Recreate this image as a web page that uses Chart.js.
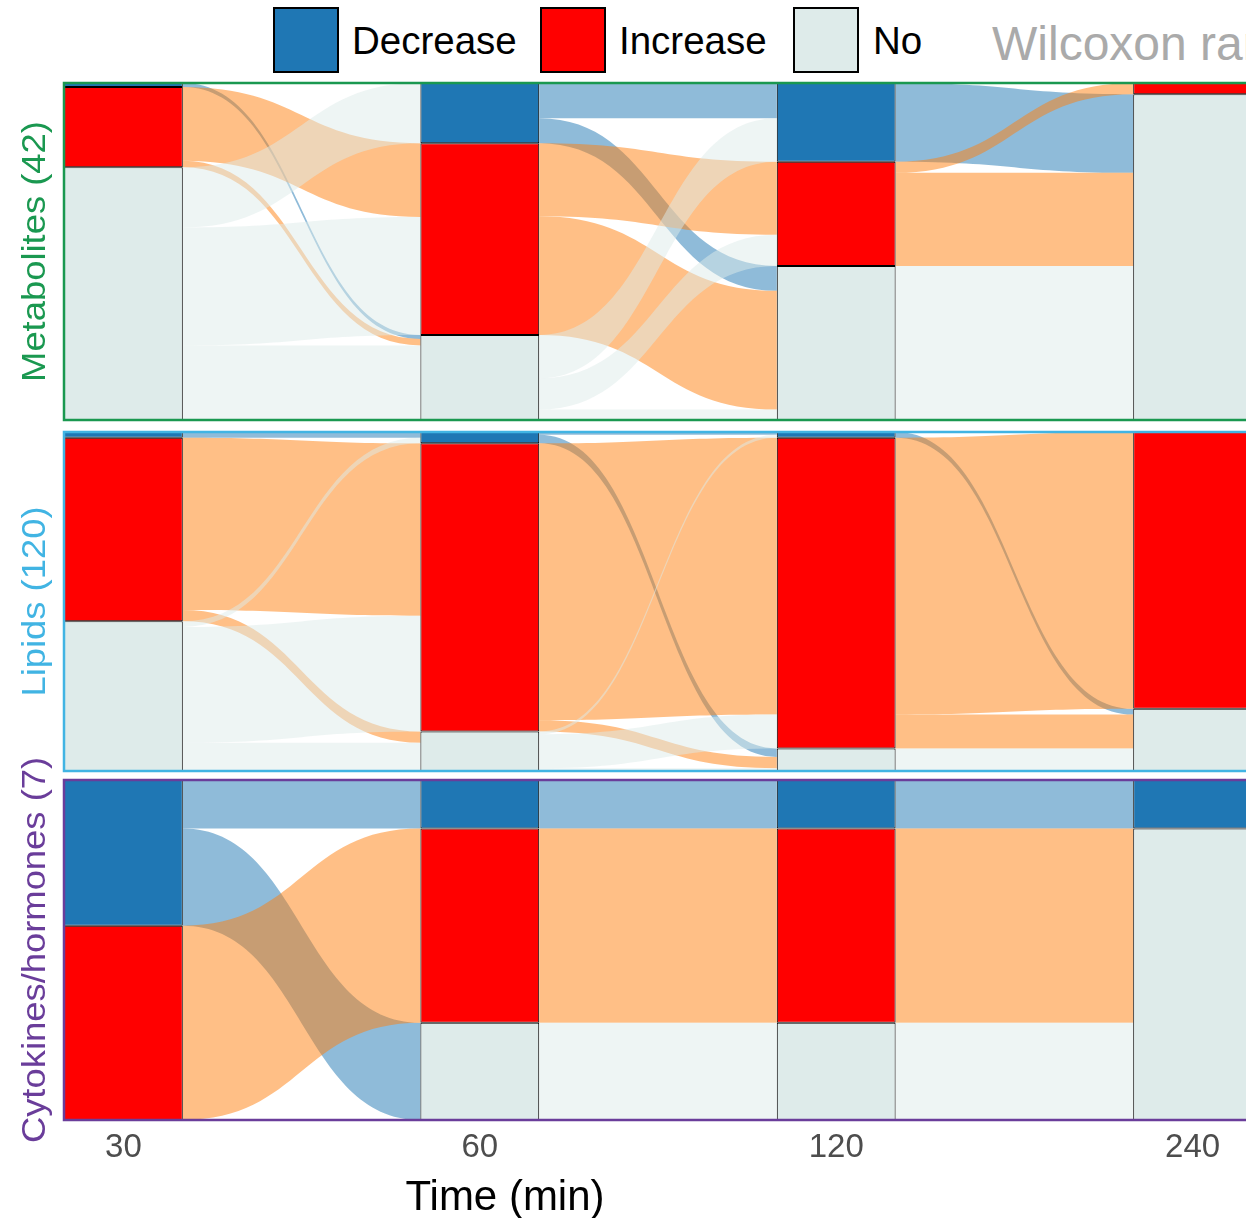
<!DOCTYPE html>
<html>

<head>
    <script src="https://cdn.jsdelivr.net/npm/chart.js"></script>
    <title>Alluvial - Wilcoxon rank-sum</title>
    <style>
        html, body { margin: 0; padding: 0; background: #fff; overflow: hidden; }
        body { width: 1246px; height: 1218px; position: relative; font-family: 'Liberation Sans', Arial, sans-serif; }
        canvas { position: absolute; left: 0; }
        .key { position: absolute; top: 7px; width: 62px; height: 62px; border: 2px solid #000; }
        .lab { position: absolute; white-space: nowrap; line-height: 1; }
    </style>
</head>

<body>
    <div class="key" style="left:273px;background:#1f77b4"></div>
    <div class="lab" style="left:352px;top:22px;font-size:38.5px">Decrease</div>
    <div class="key" style="left:540px;background:#ff0000"></div>
    <div class="lab" style="left:619px;top:22px;font-size:38.5px">Increase</div>
    <div class="key" style="left:793px;background:#deebea"></div>
    <div class="lab" style="left:873px;top:22px;font-size:38.5px">No</div>
    <div class="lab" style="left:992px;top:20px;font-size:48px;color:#aaaaaa">Wilcoxon rank-sum test</div>

    <canvas id="metabChart" width="1260" height="380" style="top:60px"></canvas>
    <canvas id="lipidChart" width="1260" height="375" style="top:410px"></canvas>
    <canvas id="cytoChart" width="1260" height="478" style="top:740px"></canvas>

    <div class="lab" style="left:305px;width:400px;text-align:center;top:1175px;font-size:42px">Time (min)</div>

    <script>
        const times = ['30', '60', '120', '240'];
        const states = ['Decrease', 'Increase', 'No'];
        const stateColors = ['#1f77b4', '#ff0000', '#deebea'];
        const flowColors = ['rgba(31,119,180,0.5)', 'rgba(255,127,14,0.5)', 'rgba(222,235,234,0.5)'];

        // flow counts, rows = state at the earlier time, columns = state at the later time
        const metab30to60 = [[0, 0, 0.5], [0, 9.2, 0.8], [7.5, 14.7, 9.3]];
        const metab60to120 = [[4.4, 0, 3.1], [0, 9.1, 14.8], [5.4, 3.9, 1.3]];
        const metab120to240 = [[0, 0, 9.8], [0, 1.4, 11.6], [0, 0, 19.2]];

        const lipid30to60 = [[2, 0, 0], [0, 61, 4], [2, 41, 10]];
        const lipid60to120 = [[1, 0, 3], [0, 98, 4], [1, 12, 1]];
        const lipid120to240 = [[0, 0, 2], [0, 98, 12], [0, 0, 8]];

        const cyto30to60 = [[1, 0, 2], [0, 4, 0], [0, 0, 0]];
        const cyto60to120 = [[1, 0, 0], [0, 4, 0], [0, 0, 2]];
        const cyto120to240 = [[1, 0, 0], [0, 0, 4], [0, 0, 2]];

        const barFrac = 1 / 3;
        const fontFamily = "'Liberation Sans', Arial, sans-serif";

        const sum = arr => arr.reduce((a, b) => a + b, 0);

        function strataAt(flows, t) {
            if (t < flows.length) return flows[t].map(row => sum(row));
            const last = flows[flows.length - 1];
            return states.map((_, j) => sum(last.map(row => row[j])));
        }

        const flowPlugin = {
            id: 'flows',
            beforeDatasetsDraw(chart, args, opts) {
                const { ctx, scales: { x, y } } = chart;
                const flows = opts.flows;
                const half = (x.getPixelForValue(1) - x.getPixelForValue(0)) * barFrac / 2;
                ctx.save();
                for (let t = 0; t < flows.length; t++) {
                    const m = flows[t];
                    const src = strataAt(flows, t);
                    const dst = strataAt(flows, t + 1);
                    const x0 = x.getPixelForValue(t) + half;
                    const x1 = x.getPixelForValue(t + 1) - half;
                    const xm = (x0 + x1) / 2;
                    for (let a = 0; a < 3; a++) {
                        for (let b = 0; b < 3; b++) {
                            const v = m[a][b];
                            if (!v) continue;
                            const s0 = sum(src.slice(0, a)) + sum(m[a].slice(0, b));
                            let d0 = sum(dst.slice(0, b));
                            for (let k = 0; k < a; k++) d0 += m[k][b];
                            const y0t = y.getPixelForValue(s0), y0b = y.getPixelForValue(s0 + v);
                            const y1t = y.getPixelForValue(d0), y1b = y.getPixelForValue(d0 + v);
                            ctx.beginPath();
                            ctx.moveTo(x0, y0t);
                            ctx.bezierCurveTo(xm, y0t, xm, y1t, x1, y1t);
                            ctx.lineTo(x1, y1b);
                            ctx.bezierCurveTo(xm, y1b, xm, y0b, x0, y0b);
                            ctx.closePath();
                            ctx.fillStyle = flowColors[a];
                            ctx.fill();
                        }
                    }
                }
                ctx.restore();
            }
        };

        const framePlugin = {
            id: 'frame',
            afterDraw(chart, args, opts) {
                const { ctx, chartArea: area } = chart;
                ctx.save();
                ctx.strokeStyle = opts.color;
                ctx.lineWidth = 2.5;
                ctx.strokeRect(area.left, area.top, area.right - area.left, area.bottom - area.top);
                ctx.translate(36, (area.top + area.bottom) / 2);
                ctx.rotate(-Math.PI / 2);
                ctx.scale(1.07, 1);
                ctx.fillStyle = opts.color;
                ctx.font = '34px ' + fontFamily;
                ctx.textAlign = 'center';
                ctx.textBaseline = 'middle';
                ctx.fillText(opts.title, 0, 0);
                ctx.restore();
            }
        };

        function makePanel(canvasId, cfg) {
            const strata = times.map((_, t) => strataAt(cfg.flows, t));
            const datasets = states.map((s, i) => ({
                label: s,
                data: times.map((_, t) => ({ x: t, y: strata[t][i] || null })),
                backgroundColor: stateColors[i],
                borderColor: '#000000',
                borderWidth: 1,
                borderSkipped: false,
                categoryPercentage: barFrac,
                barPercentage: 1
            }));

            new Chart(document.getElementById(canvasId), {
                type: 'bar',
                data: { datasets: datasets },
                options: {
                    responsive: false,
                    animation: false,
                    devicePixelRatio: 1,
                    events: [],
                    layout: { padding: cfg.padding },
                    plugins: {
                        legend: { display: false },
                        tooltip: { enabled: false },
                        flows: { flows: cfg.flows },
                        frame: { title: cfg.title, color: cfg.color }
                    },
                    scales: {
                        x: {
                            type: 'linear',
                            min: -barFrac / 2,
                            max: times.length - 1 + barFrac / 2,
                            offset: false,
                            stacked: true,
                            grid: { display: false, drawTicks: false },
                            border: { display: false },
                            afterBuildTicks: axis => { axis.ticks = times.map((_, i) => ({ value: i })); },
                            afterFit: axis => { axis.height = cfg.axisHeight; },
                            ticks: {
                                display: cfg.showTicks,
                                callback: v => times[v],
                                color: '#4d4d4d',
                                font: { family: fontFamily, size: 33 },
                                padding: 8,
                                maxRotation: 0,
                                autoSkip: false
                            }
                        },
                        y: {
                            type: 'linear',
                            min: 0,
                            max: cfg.total,
                            reverse: true,
                            stacked: true,
                            grid: { display: false, drawTicks: false },
                            border: { display: false },
                            ticks: { display: false },
                            afterFit: axis => { axis.width = 64; }
                        }
                    }
                },
                plugins: [flowPlugin, framePlugin]
            });
        }

        makePanel('metabChart', {
            title: 'Metabolites (42)', color: '#1a9850', total: 42,
            flows: [metab30to60, metab60to120, metab120to240],
            padding: { top: 23, bottom: 20, left: 0, right: 8 }, axisHeight: 0, showTicks: false
        });
        makePanel('lipidChart', {
            title: 'Lipids (120)', color: '#41b4e3', total: 120,
            flows: [lipid30to60, lipid60to120, lipid120to240],
            padding: { top: 22, bottom: 14, left: 0, right: 8 }, axisHeight: 0, showTicks: false
        });
        makePanel('cytoChart', {
            title: 'Cytokines/hormones (7)', color: '#6a3d9a', total: 7,
            flows: [cyto30to60, cyto60to120, cyto120to240],
            padding: { top: 40, bottom: 38, left: 0, right: 8 }, axisHeight: 60, showTicks: true
        });
    </script>
</body>

</html>
